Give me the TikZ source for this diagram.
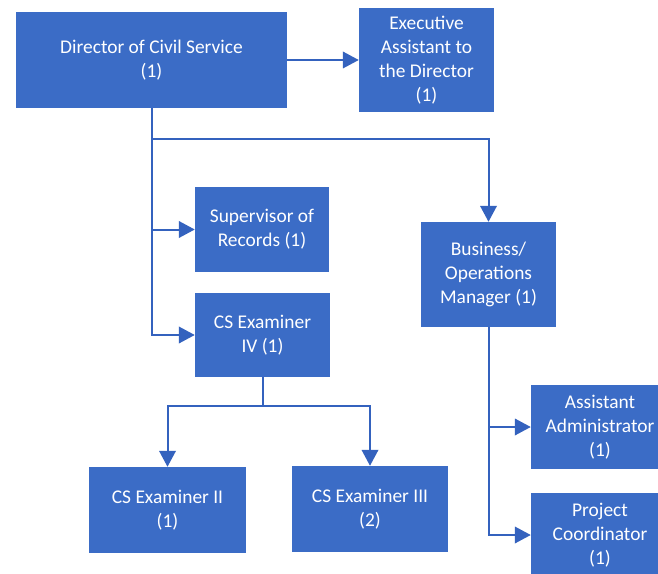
\documentclass[tikz,border=0pt]{standalone}
\usepackage{fontspec}
\setmainfont{Carlito}
\usetikzlibrary{arrows.meta}
\definecolor{boxblue}{RGB}{59,108,198}
\definecolor{lineblue}{RGB}{52,98,190}
\tikzset{
  box/.style={fill=boxblue, draw=none, text=white, align=center, inner sep=0pt,
    font=\fontsize{16.5}{20.4}\selectfont},
  conn/.style={draw=lineblue, line width=1.7pt,
    -{Triangle[length=13.5pt,width=14pt]}},
  plain/.style={draw=lineblue, line width=1.7pt}
}
\begin{document}
\begin{tikzpicture}[x=0.85pt,y=-0.85pt]
\useasboundingbox (0,0) rectangle (658,573);
\clip (0,0) rectangle (658,573);
\fill[white] (0,0) rectangle (658,573);

% boxes
\node[box, minimum width=271*0.85pt, minimum height=96*0.85pt] (dir) at (151.5,60)
  {Director of Civil Service\\(1)};
\node[box, minimum width=135*0.85pt, minimum height=104*0.85pt] (exec) at (426.5,60)
  {Executive\\Assistant to\\the Director\\(1)};
\node[box, minimum width=134*0.85pt, minimum height=85*0.85pt] (sup) at (262,229.5)
  {Supervisor of\\Records (1)};
\node[box, minimum width=135*0.85pt, minimum height=84*0.85pt] (cs4) at (262.5,335)
  {CS Examiner\\IV (1)};
\node[box, minimum width=135*0.85pt, minimum height=105*0.85pt] (biz) at (488.5,274.5)
  {Business/\\Operations\\Manager (1)};
\node[box, minimum width=157*0.85pt, minimum height=86*0.85pt] (cs2) at (167.5,510)
  {CS Examiner II\\(1)};
\node[box, minimum width=156*0.85pt, minimum height=86*0.85pt] (cs3) at (370,509)
  {CS Examiner III\\(2)};
\node[box, minimum width=138*0.85pt, minimum height=84*0.85pt] (aa) at (600,427)
  {Assistant\\Administrator\\(1)};
\node[box, minimum width=138*0.85pt, minimum height=84*0.85pt] (pc) at (600,535)
  {Project\\Coordinator\\(1)};

% junction points
\coordinate (j1) at (151.5,139);
\coordinate (j2) at (262.5,406);

% connectors
\draw[conn] (dir.east) -- (exec.west);
\draw[conn] (dir.south) |- (cs4.west);
\draw[conn] (dir.south |- sup.west) -- (sup.west);
\draw[conn] (j1) -| (biz.north);
\draw[conn] (biz.south) |- (pc.west);
\draw[conn] (biz.south |- aa.west) -- (aa.west);
\draw[plain] (cs4.south) -- (j2);
\draw[conn] (j2) -| (cs2.north);
\draw[conn] (j2) -| (cs3.north);
\end{tikzpicture}
\end{document}
